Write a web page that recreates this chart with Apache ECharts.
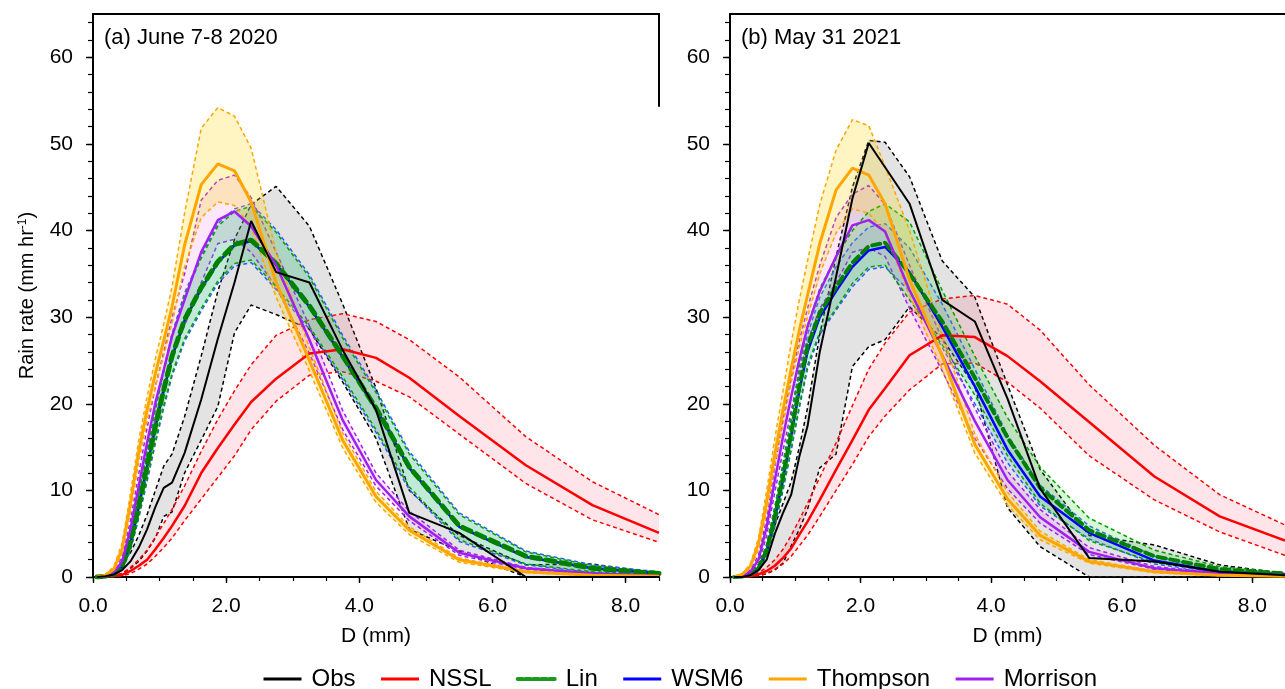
<!DOCTYPE html>
<html><head><meta charset="utf-8">
<script src="https://cdn.jsdelivr.net/npm/echarts@6/dist/echarts.min.js"></script>
<style>html,body{margin:0;padding:0;background:#fff}#c{width:1285px;height:689px}</style>
</head><body><div id="c"></div>
<script>
// Drop diameter bins (mm)
const D = [0.062,0.187,0.312,0.437,0.562,0.687,0.812,0.937,1.062,1.187,1.375,1.625,1.875,2.125,2.375,2.75,3.25,3.75,4.25,4.75,5.5,6.5,7.5,8.5];

// Tick values / labels
const xMajorTicks = [0,2,4,6,8];
const xMinorTicks = [0,0.5,1,1.5,2,2.5,3,3.5,4,4.5,5,5.5,6,6.5,7,7.5,8,8.5];
const yMajorTicks = [0,10,20,30,40,50,60];
const yMinorTicks = [0,2,4,6,8,10,12,14,16,18,20,22,24,26,28,30,32,34,36,38,40,42,44,46,48,50,52,54,56,58,60,62,64];
const panelTitles = ['(a) June 7-8 2020','(b) May 31 2021'];
const legendNames = ['Obs','NSSL','Lin','WSM6','Thompson','Morrison'];

// ---- Panel (a) June 7-8 2020 ----
const obsA_mean = [0,0.1,0.3,0.8,1.8,3.4,5.5,8.1,10.3,10.9,14.3,20.5,27.5,34.0,41.1,35.2,34.0,26.2,19.3,7.4,5.1,0,0,0];
const obsA_low  = [0,0,0.1,0.4,1.0,1.8,3.0,4.5,7.0,7.5,12.0,15.8,19.7,28.2,31.4,30.3,28.6,22.5,16.0,5.5,3.0,0,0,0];
const obsA_up   = [0,0.2,0.6,1.5,2.8,4.8,7.2,10.0,12.8,14.2,18.5,25.5,33.0,39.0,43.0,45.1,40.5,31.5,21.8,10.0,4.8,1.4,1.5,0.4];
const nsslA_mean = [0,0.05,0.1,0.25,0.7,1.3,2.0,3.2,4.5,5.9,8.2,12.0,14.9,17.6,20.2,22.9,25.8,26.3,25.3,23.0,18.6,12.9,8.3,5.1];
const nsslA_low  = [0,0,0.05,0.15,0.4,0.9,1.5,2.4,3.4,4.5,6.5,9.0,11.5,14.0,17.0,20.3,23.3,23.7,22.6,20.8,16.5,10.8,6.6,4.0];
const nsslA_up   = [0,0.1,0.2,0.4,1.1,2.0,3.1,4.6,6.2,7.8,10.5,14.5,18.2,21.5,24.5,27.9,29.7,30.4,29.5,27.4,23.1,16.2,11.0,7.2];
const linA_mean = [0,0.1,0.3,1.3,4.0,8.2,12.8,17.4,21.6,25.5,29.7,33.4,36.4,38.4,38.9,36.2,31.3,25.5,19.5,12.7,5.9,2.4,1.0,0.4];
const linA_low  = [0,0.05,0.2,0.9,3.2,7.0,11.3,15.7,19.8,23.5,27.5,31.0,34.2,36.2,36.6,33.5,28.9,23.1,17.0,10.4,4.3,1.5,0.6,0.3];
const linA_up   = [0,0.15,0.5,1.8,5.0,9.6,14.5,19.3,23.7,27.8,32.5,36.8,40.5,42.2,42.8,39.8,34.6,27.6,21.3,14.2,7.2,2.9,1.3,0.5];
const wsmA_mean = [0,0.1,0.3,1.2,3.9,8.1,12.7,17.3,21.5,25.4,29.6,33.3,36.3,38.3,38.8,36.1,31.2,25.4,19.4,12.6,5.8,2.3,1.0,0.4];
const wsmA_low  = [0,0.05,0.2,0.8,3.0,6.8,11.0,15.4,19.5,23.2,27.2,30.7,33.9,35.9,36.3,33.2,28.6,22.8,16.7,10.1,4.1,1.4,0.5,0.2];
const wsmA_up   = [0,0.15,0.5,1.9,5.2,9.9,14.8,19.6,24.0,28.1,32.8,37.1,40.8,42.5,43.1,40.1,34.9,27.9,21.6,14.5,7.4,3.0,1.4,0.6];
const thA_mean = [0,0.2,0.9,3.2,8.5,14.5,19.3,23.5,27.3,31.2,38.3,45.3,47.7,46.9,43.3,34.0,25.0,15.8,9.3,5.4,2.0,0.6,0.2,0.1];
const thA_low  = [0,0.15,0.7,2.7,7.5,13.3,18.0,22.0,25.6,29.3,35.8,41.5,43.3,42.9,40.4,32.3,23.8,14.9,8.6,4.9,1.7,0.5,0.15,0.05];
const thA_up   = [0,0.3,1.2,3.9,9.6,15.8,20.8,25.2,29.2,33.5,42.0,51.8,54.2,53.2,49.5,37.5,26.5,16.6,9.9,5.8,2.2,0.7,0.25,0.1];
const morA_mean = [0,0.1,0.5,1.8,5.5,10.5,15.5,20.1,23.9,27.8,32.0,37.5,41.2,42.2,40.5,36.0,27.4,18.1,11.2,7.0,2.8,1.0,0.4,0.15];
const morA_low  = [0,0.05,0.4,1.4,4.7,9.3,14.0,18.4,22.0,25.8,29.0,34.0,38.5,39.0,37.5,33.5,25.8,17.0,10.5,6.5,2.5,0.9,0.35,0.1];
const morA_up   = [0,0.15,0.7,2.3,6.5,11.9,17.2,22.0,26.0,30.0,35.0,43.5,45.8,46.4,43.8,37.5,29.0,19.2,12.0,7.6,3.1,1.1,0.45,0.2];

// ---- Panel (b) May 31 2021 ----
const obsB_mean = [0,0,0.2,0.8,2.0,5.0,7.4,9.5,13.9,17.4,26.0,34.7,43.7,50.1,47.3,43.1,32.0,29.5,20.6,10.2,2.2,1.8,0.6,0.2];
const obsB_low  = [0,0,0.05,0.1,0.4,0.8,1.6,3.6,5.5,7.8,12.6,14.2,24.3,26.6,27.4,31.2,27.5,22.0,8.0,3.5,0,0,0,0];
const obsB_up   = [0,0.1,0.5,1.5,3.2,6.0,8.5,11.0,15.0,19.5,28.0,37.0,45.0,50.4,50.2,46.2,36.5,32.3,22.2,12.4,4.8,3.7,1.4,0.4];
const nsslB_mean = [0,0.02,0.1,0.3,0.7,1.3,2.2,3.3,4.9,6.4,8.9,12.4,15.8,19.3,21.8,25.6,27.9,27.7,25.5,22.6,17.9,11.6,7.0,4.2];
const nsslB_low  = [0,0,0.05,0.15,0.4,0.9,1.5,2.4,3.6,4.8,7.0,10.0,13.0,16.2,18.6,21.6,24.6,24.7,22.5,19.5,14.0,8.9,5.2,2.5];
const nsslB_up   = [0,0.05,0.15,0.5,1.1,2.0,3.2,4.8,6.6,8.5,11.5,15.5,19.8,24.0,27.0,30.6,32.1,32.5,31.5,28.5,22.2,15.2,9.5,6.0];
const linB_mean = [0,0.05,0.3,1.0,3.1,7.0,11.6,16.6,22.0,26.6,30.5,33.5,36.3,38.2,38.6,35.0,29.5,23.0,16.1,10.3,5.4,2.4,0.9,0.4];
const linB_low  = [0,0.03,0.2,0.7,2.5,6.0,10.2,14.8,19.8,24.4,28.3,31.0,33.9,35.8,36.0,32.0,26.8,21.0,14.0,8.5,4.2,1.7,0.6,0.3];
const linB_up   = [0,0.08,0.4,1.3,3.8,8.2,13.2,18.5,24.2,29.0,33.3,37.0,40.0,42.2,43.1,41.0,33.1,25.5,18.4,12.7,6.8,3.1,1.2,0.5];
const wsmB_mean = [0,0.05,0.3,0.9,3.0,6.8,11.3,16.3,21.5,26.0,30.0,33.0,35.8,37.7,38.1,35.2,28.9,22.0,14.7,9.3,5.1,1.9,0.6,0.3];
const wsmB_low  = [0,0.03,0.2,0.6,2.4,5.8,10.0,14.6,19.5,24.0,28.0,30.8,33.5,35.5,35.8,33.0,26.5,20.0,13.2,8.2,4.4,1.5,0.5,0.2];
const wsmB_up   = [0,0.08,0.4,1.2,3.6,7.9,12.7,18.0,23.5,28.0,32.3,35.8,38.6,40.4,40.8,38.0,31.5,24.0,16.4,10.6,5.9,2.4,0.8,0.4];
const thB_mean = [0,0.3,1.2,3.9,8.7,14.2,19.3,24.0,28.5,32.5,38.5,44.7,47.2,46.4,43.1,34.3,25.5,15.3,9.0,4.8,1.8,0.6,0.2,0.1];
const thB_low  = [0,0.2,1.0,3.2,7.5,13.0,17.5,22.5,26.5,30.0,35.0,39.7,42.5,42.0,39.7,32.5,24.0,14.3,8.3,4.3,1.6,0.5,0.15,0.05];
const thB_up   = [0,0.4,1.5,4.5,10.0,16.0,21.5,27.0,32.0,36.5,43.0,49.3,52.8,52.1,47.4,40.0,28.0,16.5,9.8,5.3,2.0,0.7,0.25,0.1];
const morB_mean = [0,0.1,0.6,2.0,5.8,11.2,16.2,20.8,25.1,28.9,33.0,37.0,40.6,41.2,39.9,33.1,25.6,18.0,11.2,6.9,2.9,1.0,0.4,0.2];
const morB_low  = [0,0.05,0.4,1.5,4.8,9.8,14.6,19.2,23.5,27.2,31.0,34.0,37.5,38.0,37.0,31.0,23.8,16.0,10.2,6.2,2.6,0.9,0.35,0.15];
const morB_up   = [0,0.15,0.8,2.5,6.8,12.8,18.2,23.0,27.3,31.0,36.0,41.5,44.2,45.2,43.0,36.0,27.5,19.5,12.2,7.8,3.4,1.2,0.5,0.2];

const FONT = '"Liberation Sans", Arial, Helvetica, sans-serif';

// drawing order: band + bounds per model, means on top
const models = [
  {name:'Obs',      color:'#000000', bound:'#000000', fill:'rgba(150,150,150,0.27)', w:2},
  {name:'NSSL',     color:'#ff0000', bound:'#ff0000', fill:'rgba(255,40,70,0.12)', w:2.5},
  {name:'WSM6',     color:'#0000ff', bound:'#2a5cff', fill:'rgba(40,120,255,0.13)', w:2.5},
  {name:'Morrison', color:'#a020f0', bound:'#a020f0', fill:'rgba(235,110,235,0.17)', w:2.5},
  {name:'Lin',      color:'#008000', bound:'#00a000', fill:'rgba(40,215,40,0.19)', w:5},
  {name:'Thompson', color:'#ffa500', bound:'#ffa500', fill:'rgba(255,215,0,0.24)', w:3}
];
const meanZ = {NSSL:20, WSM6:21, Lin:22, Morrison:23, Thompson:24, Obs:25};

const panelData = [
  {Obs:[obsA_low,obsA_mean,obsA_up], NSSL:[nsslA_low,nsslA_mean,nsslA_up], WSM6:[wsmA_low,wsmA_mean,wsmA_up],
   Morrison:[morA_low,morA_mean,morA_up], Lin:[linA_low,linA_mean,linA_up], Thompson:[thA_low,thA_mean,thA_up]},
  {Obs:[obsB_low,obsB_mean,obsB_up], NSSL:[nsslB_low,nsslB_mean,nsslB_up], WSM6:[wsmB_low,wsmB_mean,wsmB_up],
   Morrison:[morB_low,morB_mean,morB_up], Lin:[linB_low,linB_mean,linB_up], Thompson:[thB_low,thB_mean,thB_up]}
];

const gridLefts = [93, 730];
const grids = gridLefts.map(l => ({left:l, top:14, width:566, height:563}));

const axisLineStyle = {color:'#000', width:2};
const xAxes = [], yAxes = [];
[0,1].forEach(g => {
  xAxes.push({gridIndex:g, type:'value', position:'bottom', min:0, max:8.5,
    axisLine:{show:true, onZero:false, lineStyle:axisLineStyle},
    axisTick:{show:true, length:6, customValues:xMajorTicks, lineStyle:{color:'#000', width:1.4}},
    axisLabel:{customValues:xMajorTicks, formatter:v=>Number(v).toFixed(1), margin:19, fontSize:21, color:'#000', fontFamily:FONT},
    splitLine:{show:false},
    name:'D (mm)', nameLocation:'middle', nameGap:49,
    nameTextStyle:{fontSize:21, color:'#000', fontFamily:FONT}});
  xAxes.push({gridIndex:g, type:'value', position:'bottom', min:0, max:8.5,
    axisLine:{show:false}, axisTick:{show:true, length:4, customValues:xMinorTicks, lineStyle:{color:'#000', width:1.2}},
    axisLabel:{show:false}, splitLine:{show:false}});
  xAxes.push({gridIndex:g, type:'value', position:'top', min:0, max:8.5,
    axisLine:{show:true, onZero:false, lineStyle:axisLineStyle}, axisTick:{show:false}, axisLabel:{show:false}, splitLine:{show:false}});
  yAxes.push({gridIndex:g, type:'value', position:'left', min:0, max:65,
    axisLine:{show:true, onZero:false, lineStyle:axisLineStyle},
    axisTick:{show:true, length:7, customValues:yMajorTicks, lineStyle:{color:'#000', width:1.4}},
    axisLabel:{customValues:yMajorTicks, margin:20, fontSize:21, color:'#000', fontFamily:FONT},
    splitLine:{show:false},
    name: g===0 ? '{a|Rain rate (mm hr}{s|-1}{a|)}' : '',
    nameLocation:'middle', nameGap:56,
    nameTextStyle:{fontSize:20, color:'#000', fontFamily:FONT,
      rich:{a:{fontSize:20, fontFamily:FONT, color:'#000'}, s:{fontSize:12, fontFamily:FONT, color:'#000', verticalAlign:'top'}}}});
  yAxes.push({gridIndex:g, type:'value', position:'left', min:0, max:65,
    axisLine:{show:false}, axisTick:{show:true, length:5, customValues:yMinorTicks, lineStyle:{color:'#000', width:1.2}},
    axisLabel:{show:false}, splitLine:{show:false}});
});

function bandSeries(g, lo, up, fill, z){
  return {type:'custom', name:'band', xAxisIndex:g*3, yAxisIndex:g*2, z, silent:true, animation:false,
    data: D.map((d,i)=>[d, lo[i], up[i]]),
    renderItem:(params, api) => {
      if (params.dataIndex !== 0) return null;
      const pts = [];
      for (let i=0;i<D.length;i++) pts.push(api.coord([D[i], up[i]]));
      for (let i=D.length-1;i>=0;i--) pts.push(api.coord([D[i], lo[i]]));
      return {type:'polygon', shape:{points:pts}, style:{fill:fill}};
    }};
}
function lineSeries(g, name, ys, color, width, type, z, cap){
  return {type:'line', name, xAxisIndex:g*3, yAxisIndex:g*2, z, silent:true, animation:false,
    data: D.map((d,i)=>[d, ys[i]]), symbol:'none', showSymbol:false,
    lineStyle:{color, width, type, cap: cap || 'butt'}, itemStyle:{color}};
}

const series = [];
[0,1].forEach(g => {
  models.forEach((m, k) => {
    const [lo, mean, up] = panelData[g][m.name];
    series.push(bandSeries(g, lo, up, m.fill, 1 + 2*k));
    series.push(lineSeries(g, m.name+'_lo', lo, m.bound, 1.5, [4,3], 2 + 2*k));
    series.push(lineSeries(g, m.name+'_up', up, m.bound, 1.5, [4,3], 2 + 2*k));
  });
  models.forEach(m => {
    const mean = panelData[g][m.name][1];
    if (m.name === 'Lin') {
      series.push(lineSeries(g, 'Lin', mean, m.color, g===0?5:4, g===0?[9,6]:[8,5], meanZ.Lin, 'round'));
    } else {
      series.push(lineSeries(g, m.name, mean, m.color, m.w, 'solid', meanZ[m.name]));
    }
  });
});

const chart = echarts.init(document.getElementById('c'), null, {width:1285, height:689});
chart.setOption({
  animation:false,
  backgroundColor:'#fff',
  title: panelTitles.map((t, i) => ({text:t, left: gridLefts[i]+11, top:27, padding:0,
    textStyle:{fontSize:22, fontWeight:'normal', color:'#000', fontFamily:FONT}})),
  grid: grids,
  xAxis: xAxes,
  yAxis: yAxes,
  legend: {
    left:262, top:667, padding:0, itemWidth:38, itemHeight:14, itemGap:24, selectedMode:false,
    textStyle:{fontSize:24, color:'#000', fontFamily:FONT, padding:[0,0,0,5]},
    data: legendNames.map(n => {
      const m = models.find(mm => mm.name === n);
      return n === 'Lin'
        ? {name:n, itemStyle:{opacity:0}, lineStyle:{color:'#1a9a1a', width:4, type:[5,3], opacity:1}}
        : {name:n, itemStyle:{opacity:0}, lineStyle:{color:m.color, width:3, type:'solid', opacity:1}};
    })
  },
  series
});

// partial right frame line of panel (a) (visible only near the top)
const p1 = chart.convertToPixel({xAxisIndex:0, yAxisIndex:0}, [8.5, 65]);
const p2 = chart.convertToPixel({xAxisIndex:0, yAxisIndex:0}, [8.5, 54.3]);
chart.setOption({graphic:[{type:'line', z:100, shape:{x1:p1[0], y1:p1[1]-1, x2:p2[0], y2:p2[1]}, style:{stroke:'#000', lineWidth:2}}]});
</script>
</body></html>
